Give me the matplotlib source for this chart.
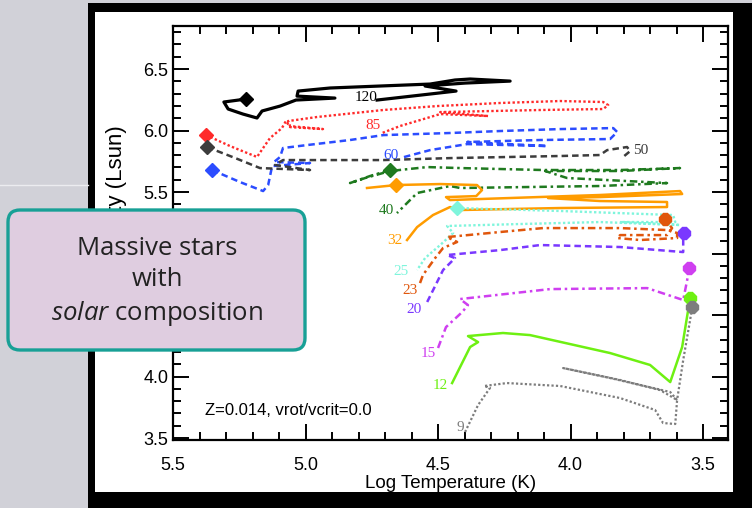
import matplotlib
matplotlib.use("Agg")
import matplotlib.pyplot as plt
from matplotlib.patches import Rectangle, FancyBboxPatch
from matplotlib.lines import Line2D
from matplotlib.ticker import MultipleLocator
from matplotlib.transforms import IdentityTransform

plt.rcParams["mathtext.fontset"] = "custom"
plt.rcParams["mathtext.rm"] = "Open Sans"
plt.rcParams["mathtext.it"] = "Open Sans:italic"

# evolutionary tracks, log Teff (K) and log L (Lsun)
t120 = [5.225, 5.308, 5.292, 5.236, 5.183, 5.164, 5.096, 5.036, 4.889, 5.032, 5.028, 4.907,
        4.719, 4.530, 4.436, 4.379, 4.228, 4.398, 4.549, 4.432, 4.730]
l120 = [6.256, 6.232, 6.175, 6.134, 6.102, 6.159, 6.199, 6.248, 6.264, 6.280, 6.321, 6.346,
        6.362, 6.378, 6.411, 6.419, 6.402, 6.386, 6.362, 6.321, 6.248]

t85 = [5.375, 5.285, 5.183, 5.160, 5.134, 5.089, 5.074, 5.058, 4.934, 5.058, 5.066, 4.957, 4.707,
       4.504, 4.266, 4.039, 3.877, 3.858, 3.877, 4.115, 4.492, 4.311, 4.492, 4.568, 4.643, 4.711]
l85 = [5.963, 5.874, 5.785, 5.858, 5.939, 6.020, 6.077, 6.028, 6.012, 6.036, 6.077, 6.110, 6.167,
       6.199, 6.224, 6.240, 6.232, 6.207, 6.175, 6.167, 6.150, 6.118, 6.134, 6.085, 6.037, 5.980]

t60 = [5.353, 5.247, 5.160, 5.141, 5.126, 4.983, 5.119, 5.096, 5.085, 4.994, 4.832, 4.707, 4.455,
       4.266, 4.039, 3.839, 3.824, 3.851, 4.115, 4.390, 4.088, 4.390, 4.530, 4.643]
l60 = [5.679, 5.581, 5.508, 5.557, 5.711, 5.736, 5.744, 5.785, 5.858, 5.882, 5.923, 5.963, 5.980,
       5.996, 6.012, 6.020, 5.988, 5.931, 5.923, 5.907, 5.874, 5.890, 5.841, 5.776]

t50 = [5.372, 5.266, 5.172, 4.983, 5.115, 5.085, 4.707, 4.455, 4.039, 3.889, 3.862, 3.787, 3.775, 3.802]
l50 = [5.866, 5.777, 5.695, 5.679, 5.720, 5.760, 5.760, 5.776, 5.793, 5.801, 5.841, 5.866, 5.833, 5.785]

t40 = [4.681, 4.757, 4.832, 4.775, 4.681, 4.541, 4.417, 4.104, 3.813, 3.587, 3.813, 4.096, 4.013,
       3.636, 3.889, 4.417, 4.455, 4.579, 4.655]
l40 = [5.679, 5.630, 5.573, 5.614, 5.671, 5.703, 5.695, 5.679, 5.679, 5.695, 5.671, 5.671, 5.614,
       5.573, 5.549, 5.533, 5.549, 5.492, 5.329]

t32 = [4.768, 4.658, 4.492, 4.353, 4.334, 4.356, 4.470, 4.455, 3.889, 3.587, 3.579, 3.889, 4.085,
       3.889, 3.636, 3.636, 4.039, 4.417, 4.455, 4.519, 4.579, 4.617]
l32 = [5.533, 5.557, 5.565, 5.557, 5.516, 5.467, 5.459, 5.435, 5.476, 5.508, 5.484, 5.459, 5.451,
       5.427, 5.419, 5.378, 5.370, 5.354, 5.378, 5.313, 5.215, 5.110]

t25 = [4.428, 4.039, 3.613, 3.605, 3.813, 3.587, 3.889, 4.190, 4.466, 4.443, 4.492, 4.549, 4.579]
l25 = [5.370, 5.346, 5.313, 5.256, 5.256, 5.232, 5.256, 5.240, 5.224, 5.167, 5.069, 4.963, 4.866]

t23 = [4.568, 4.557, 4.511, 4.481, 4.428, 4.466, 4.266, 4.104, 3.813, 3.636, 3.598, 3.598, 3.738,
       3.824, 3.813, 3.636, 3.617, 3.636, 3.643]
l23 = [4.760, 4.825, 4.963, 5.045, 5.094, 5.134, 5.175, 5.207, 5.207, 5.191, 5.167, 5.126, 5.110,
       5.126, 5.150, 5.150, 5.207, 5.256, 5.280]

t20 = [4.541, 4.481, 4.436, 4.466, 4.266, 4.115, 3.813, 3.575, 3.575, 3.572]
l20 = [4.606, 4.866, 4.963, 4.988, 5.028, 5.069, 5.053, 5.012, 5.110, 5.167]

t15 = [4.500, 4.470, 4.409, 4.387, 4.417, 4.077, 3.711, 3.575, 3.560, 3.553]
l15 = [4.232, 4.402, 4.524, 4.581, 4.630, 4.711, 4.719, 4.622, 4.785, 4.882]

t12 = [4.447, 4.379, 4.349, 4.387, 4.255, 4.153, 3.851, 3.700, 3.624, 3.579, 3.549]
l12 = [3.947, 4.240, 4.280, 4.329, 4.354, 4.337, 4.191, 4.094, 3.955, 4.240, 4.638]

t9 = [4.398, 4.349, 4.304, 4.326, 4.240, 4.039, 3.813, 3.681, 3.651, 3.605, 3.598, 3.662, 3.813,
      4.028, 3.851, 3.624, 3.598, 3.575, 3.549, 3.541]
l9 = [3.549, 3.768, 3.907, 3.923, 3.947, 3.923, 3.825, 3.728, 3.622, 3.614, 3.809, 3.890, 3.972,
      4.069, 3.988, 3.874, 3.809, 4.134, 4.459, 4.565]

masses = [120, 85, 60, 50, 40, 32, 25, 23, 20, 15, 12, 9]
temps = [t120, t85, t60, t50, t40, t32, t25, t23, t20, t15, t12, t9]
lums = [l120, l85, l60, l50, l40, l32, l25, l23, l20, l15, l12, l9]

# where the mass labels sit
lab_t = [4.772, 4.745, 4.677, 3.734, 4.696, 4.662, 4.640, 4.606, 4.590, 4.538, 4.492, 4.417]
lab_l = [6.272, 6.045, 5.801, 5.841, 5.346, 5.102, 4.858, 4.703, 4.541, 4.191, 3.931, 3.589]

colors = ["black", "#ff2a2a", "#2b4cff", "#3c3c3c", "#1f7a1f", "#ff9c00", "#7ff5dc",
          "#e0560c", "#7a38ff", "#cf3ff0", "#6ef012", "#7d7d7d"]
dot = (0, (1, 1))
dash = (0, (2.6, 1.6))
dashdot = (0, (3, 1.5, 1, 1.5))
styles = ["-", dot, dash, dash, dashdot, "-", dot, dashdot, dash, dashdot, "-", dot]
widths = [2.3, 1.7, 1.8, 1.8, 1.8, 1.8, 1.7, 1.8, 1.8, 1.8, 1.8, 1.6]
# diamond on the starting point (index into track), octagon on the last point
zams_idx = {120: 0, 85: 0, 60: 0, 50: 0, 40: 0, 32: 1, 25: 0}

W, H = 752, 508
fig = plt.figure(figsize=(W / 100, H / 100), dpi=100, facecolor="#d1d1d8")

# slide frame
fig.add_artist(Rectangle((88 / W, 0), 1 - 88 / W, (H - 3) / H, transform=fig.transFigure,
                         facecolor="black", edgecolor="none", zorder=-3))
fig.add_artist(Rectangle((95 / W, 16 / H), 638 / W, 480 / H, transform=fig.transFigure,
                         facecolor="white", edgecolor="none", zorder=-2))
fig.add_artist(Line2D([0, 88 / W], [1 - 185 / H] * 2, transform=fig.transFigure,
                      color="#ececf0", lw=1, zorder=-3))

ax = fig.add_axes([173 / W, 68 / H, 555 / W, 414 / H])
ax.set_facecolor("white")

for m, tt, ll, c, ls, lw in zip(masses, temps, lums, colors, styles, widths):
    ax.plot(tt, ll, color=c, linestyle=ls, lw=lw, zorder=2)
    if m in zams_idx:
        i = zams_idx[m]
        ax.plot(tt[i], ll[i], marker="D", ms=7.5, color=c, mec=c, zorder=4)
    else:
        ax.plot(tt[-1], ll[-1], marker="8", ms=9, color=c, mec=c, zorder=4)

for m, x, y, c in zip(masses, lab_t, lab_l, colors):
    ax.text(x, y, str(m), color=c, fontsize=11, family="Liberation Serif",
            ha="center", va="center", zorder=5)

ax.text(0.058, 0.072, "Z=0.014, vrot/vcrit=0.0", transform=ax.transAxes, fontsize=12,
        family="Liberation Sans", ha="left", va="center")

ax.set_xlim(5.5, 3.406)
ax.set_ylim(3.484, 6.85)
ax.xaxis.set_major_locator(MultipleLocator(0.5))
ax.xaxis.set_minor_locator(MultipleLocator(0.1))
ax.yaxis.set_major_locator(MultipleLocator(0.5))
ax.yaxis.set_minor_locator(MultipleLocator(0.1))
ax.xaxis.set_major_formatter(plt.FormatStrFormatter("%.1f"))
ax.yaxis.set_major_formatter(plt.FormatStrFormatter("%.1f"))
ax.tick_params(which="both", direction="in", top=True, right=True, width=1.4,
               labelsize=13, labelfontfamily="Liberation Sans")
ax.tick_params(which="major", length=11.5)
ax.tick_params(which="minor", length=6)
ax.tick_params(axis="x", pad=12.5)
ax.tick_params(axis="y", pad=3.5)
for s in ax.spines.values():
    s.set_linewidth(1.6)

ax.set_xlabel("Log Temperature (K)", fontsize=13.5, family="Liberation Sans", labelpad=0.5)
ax.set_ylabel("Log Luminosity (Lsun)", fontsize=16, family="Liberation Sans")
ax.yaxis.set_label_coords(-0.083, 0.495)

# text box over the plot
box = FancyBboxPatch((8, H - 350), 297, 140, boxstyle="round,pad=0,rounding_size=12",
                     transform=IdentityTransform(), facecolor="#dfcde0",
                     edgecolor="#18a096", lw=2.4, zorder=10)
fig.add_artist(box)

fig.text(157, H - 282, "Massive stars\nwith\n$\\mathit{solar}$ composition",
         transform=IdentityTransform(), fontsize=18.5, family="Open Sans", color="#222222",
         ha="center", va="center", multialignment="center", linespacing=1.32, zorder=11)

fig.savefig("out.png", dpi=100, facecolor=fig.get_facecolor())
